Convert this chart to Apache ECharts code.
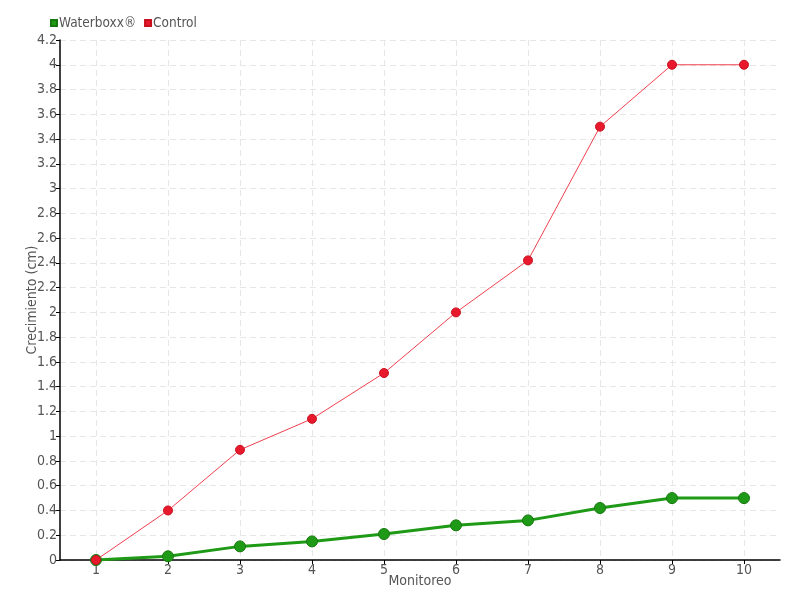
<!DOCTYPE html>
<html><head><meta charset="utf-8">
<script src="https://cdn.jsdelivr.net/npm/echarts@6/dist/echarts.min.js"></script>
<style>html,body{margin:0;padding:0;background:#fff}#c{width:800px;height:600px}</style>
</head><body><div id="c"></div>
<script>
const categories = [1, 2, 3, 4, 5, 6, 7, 8, 9, 10];
const waterboxx = [0, 0.03, 0.11, 0.15, 0.21, 0.28, 0.32, 0.42, 0.50, 0.50];
const control = [0, 0.40, 0.89, 1.14, 1.51, 2.00, 2.42, 3.50, 4.00, 4.00];
const FONT = "'DejaVu Sans Condensed', 'Liberation Sans Narrow', sans-serif";
const chart = echarts.init(document.getElementById('c'));
chart.setOption({
  animation: false,
  textStyle: {fontFamily: FONT},
  legend: {
    left: 45, top: 11, itemWidth: 6, itemHeight: 6, itemGap: 8,
    icon: 'rect',
    textStyle: {fontFamily: FONT, fontSize: 13.5, color: '#555', padding: [0, 0, 0, -3]},
    data: ['Waterboxx®', 'Control']
  },
  grid: {left: 60, right: 20, top: 40, bottom: 40, containLabel: false, outerBoundsMode: 'none'},
  xAxis: {
    type: 'value', min: 0.5, max: 10.5,
    name: 'Monitoreo', nameLocation: 'middle', nameGap: 14, nameMoveOverlap: false,
    nameTextStyle: {fontFamily: FONT, fontSize: 14, color: '#555'},
    axisLine: {lineStyle: {color: '#000', width: 1.5}},
    axisTick: {show: true, length: 4, lineStyle: {color: '#000'}, customValues: categories},
    axisLabel: {fontFamily: FONT, fontSize: 14, color: '#555', margin: 3, customValues: categories},
    splitLine: {show: true, lineStyle: {color: '#e6e6e6', type: [6, 4]}}
  },
  yAxis: {
    type: 'value', min: 0, max: 4.2, interval: 0.2,
    name: 'Crecimiento (cm)', nameLocation: 'middle', nameGap: 21, nameMoveOverlap: false,
    nameTextStyle: {fontFamily: FONT, fontSize: 14, color: '#555'},
    axisLine: {show: true, lineStyle: {color: '#000', width: 1.5}},
    axisTick: {show: true, length: 4, lineStyle: {color: '#000'}},
    axisLabel: {fontFamily: FONT, fontSize: 14, color: '#555', margin: 3,
      formatter: v => String(Math.round(v * 10) / 10)},
    splitLine: {show: true, lineStyle: {color: '#e6e6e6', type: [6, 4]}}
  },
  series: [
    {
      name: 'Waterboxx®', type: 'line',
      data: categories.map((c, i) => [c, waterboxx[i]]),
      symbol: 'circle', symbolSize: 11,
      itemStyle: {color: '#1f9a16', borderColor: '#17780f', borderWidth: 1},
      lineStyle: {color: '#1f9a16', width: 3},
      z: 3
    },
    {
      name: 'Control', type: 'line',
      data: categories.map((c, i) => [c, control[i]]),
      symbol: 'circle', symbolSize: 9,
      itemStyle: {color: '#e8192c', borderColor: '#c8101f', borderWidth: 1},
      lineStyle: {color: '#f0404f', width: 1},
      z: 4
    }
  ]
});
</script></body></html>
